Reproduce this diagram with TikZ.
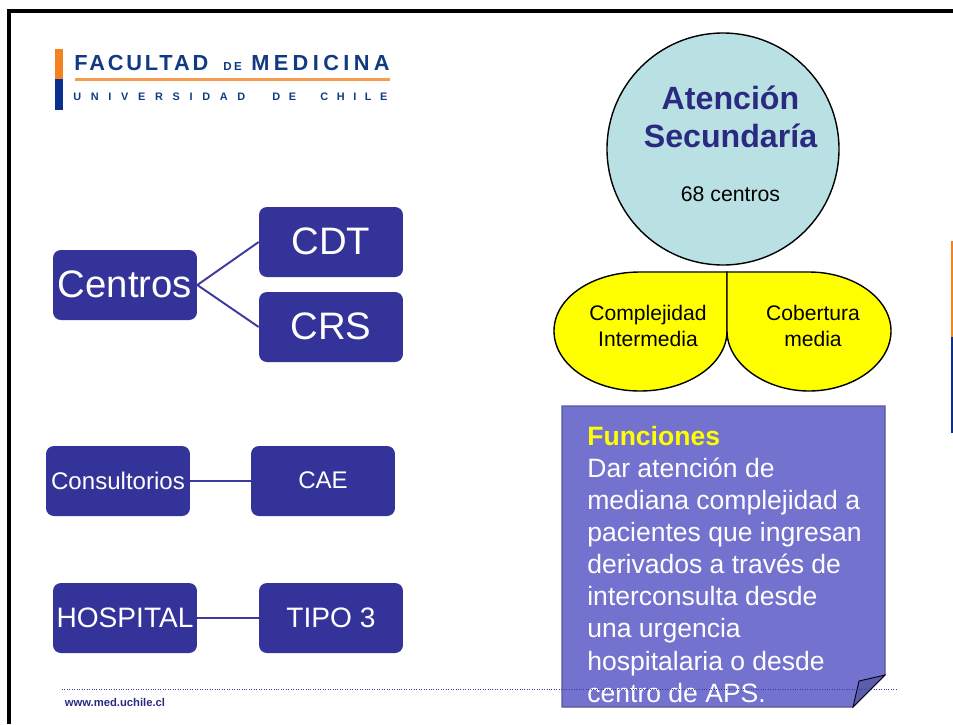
\documentclass[tikz,border=0pt]{standalone}
\usepackage{fontspec}
\setmainfont{Liberation Sans}
\newfontfamily\logofont[LetterSpace=13]{Liberation Sans}
\newfontfamily\logomed[LetterSpace=20]{Liberation Sans}
\newfontfamily\logosmall[LetterSpace=20]{Liberation Sans}
\newfontfamily\logowide[LetterSpace=89]{Liberation Sans}
\newfontfamily\logochile[LetterSpace=79]{Liberation Sans}
\definecolor{boxblue}{HTML}{333399}
\definecolor{lineblue}{HTML}{3B3B9E}
\definecolor{logoblue}{HTML}{123A82}
\definecolor{barblue}{HTML}{0B2F8F}
\definecolor{barorange}{HTML}{F58220}
\definecolor{notepurple}{HTML}{7373CF}
\definecolor{notedark}{HTML}{565699}
\definecolor{foldblue}{HTML}{5C5CAE}
\definecolor{circleteal}{HTML}{B9E0E3}
\definecolor{titleblue}{HTML}{2A2A80}
\definecolor{petalyellow}{HTML}{FFFF00}
\tikzset{
	centrobox/.style={draw=none,fill=boxblue,rounded corners=4.5pt,text=white,minimum width=2.88cm,minimum height=1.4cm,inner sep=0pt},
	centrolink/.style={draw=lineblue,line width=1.1pt},
	petal/.style={draw=black,line width=0.8pt,fill=petalyellow},
	petaltext/.style={align=center,font=\fontsize{12}{14.6}\selectfont},
}
\begin{document}
\begin{tikzpicture}[x=0.02cm,y=-0.02cm]
	\useasboundingbox(0,0)rectangle(953,724);
	% frame
	\draw[line width=2pt](953,11)--(9,11)--(9,724);
	% logo
	\fill[barorange](55,49)rectangle(62.5,79);
	\fill[barblue](55,79)rectangle(62.5,110);
	\fill[barorange!80!white](75,78)rectangle(390,80.5);
	\node[anchor=base west,inner sep=0pt,text=logoblue,font=\fontsize{12.4}{14}\bfseries\logofont](logoa)at(74,70){FACULTAD};
	\node[anchor=base west,inner sep=0pt,text=logoblue,font=\fontsize{6.6}{8}\bfseries\logosmall](logob)at(223,70){DE};
	\node[anchor=base west,inner sep=0pt,text=logoblue,font=\fontsize{12.4}{14}\bfseries\logomed](logoc)at(251,70){MEDICINA};
	\node[anchor=base west,inner sep=0pt,text=logoblue,font=\fontsize{6.2}{8}\bfseries\logowide](logod)at(73,100){UNIVERSIDAD};
	\node[anchor=base west,inner sep=0pt,text=logoblue,font=\fontsize{6.2}{8}\bfseries\logochile](logoe)at(272,100){DE};
	\node[anchor=base west,inner sep=0pt,text=logoblue,font=\fontsize{6.2}{8}\bfseries\logochile](logof)at(320,100){CHILE};
	% side bar
	\fill[barorange](951,241)rectangle(953,337);
	\fill[barblue](951,337)rectangle(953,433);
	% left boxes
	\node[centrobox,font=\fontsize{21.8}{24}\selectfont](centros)at(125,285){\raisebox{1pt}{Centros}};
	\node[centrobox,font=\fontsize{21.8}{24}\selectfont](cdt)at(331,242){\raisebox{1pt}{CDT}};
	\node[centrobox,font=\fontsize{21.8}{24}\selectfont](crs)at(331,327){\raisebox{1pt}{CRS}};
	\draw[centrolink](centros.east)--(cdt.west);
	\draw[centrolink](centros.east)--(crs.west);
	\node[centrobox,font=\fontsize{13.7}{16}\selectfont](consultorios)at(118,481){\raisebox{0.5pt}{Consultorios}};
	\node[centrobox,font=\fontsize{13.7}{16}\selectfont](cae)at(323,481){\raisebox{0.5pt}{CAE}};
	\draw[centrolink](consultorios)--(cae);
	\node[centrobox,font=\fontsize{16}{18}\selectfont](hospital)at(125,618){HOSPITAL};
	\node[centrobox,font=\fontsize{16}{18}\selectfont](tipo)at(331,618){TIPO 3};
	\draw[centrolink](hospital)--(tipo);
	% circle
	\draw[fill=circleteal,line width=0.8pt](723,149)coordinate(circ)circle(116);
	\node[align=center,text=titleblue,font=\fontsize{18.3}{21.8}\bfseries\selectfont](titulo)at(730.5,117){Atención\\Secundaría};
	\node[font=\fontsize{12.1}{14}\selectfont](centros68)at(730.5,194){68 centros};
	% petals
	\draw[petal](727,272)--(727,331)..controls(727,364)and(688,391)..(640,391)..controls(592,391)and(554,364)..(554,331)..controls(554,298)and(592,272)..(640,272)--cycle;
	\draw[petal](727,272)--(727,331)..controls(727,364)and(766,391)..(809,391)..controls(853,391)and(891,364)..(891,331)..controls(891,298)and(853,272)..(809,272)--cycle;
	\node[petaltext](compl)at(648,326){Complejidad\\Intermedia};
	\node[petaltext](cober)at(813,326){Cobertura\\media};
	% note
	\draw[fill=notepurple,draw=notedark,line width=0.7pt](562,406)--(885,406)--(885,675)--(853,707)--(562,707)--cycle;
	\draw[fill=foldblue,draw=black,line width=0.5pt](853,707)--(859,681)--(885,675)--cycle;
	\node[anchor=north west,inner sep=0pt,align=left,text=white,font=\fontsize{15.1}{18.25}\selectfont](nota)at(587,426){\textcolor{petalyellow}{\textbf{Funciones}}\\Dar atención de\\mediana complejidad a\\pacientes que ingresan\\derivados a través de\\interconsulta desde\\una urgencia\\hospitalaria o desde\\centro de APS.};
	% footer
	\coordinate(footl)at(62,689);
	\coordinate(footr)at(896,689);
	\draw[lineblue,line width=0.4pt,densely dotted](footl)--(footr);
	\node[anchor=base west,inner sep=0pt,text=titleblue,font=\fontsize{6.4}{8}\bfseries\selectfont](web)at(64.5,706){www.med.uchile.cl};
\end{tikzpicture}
\end{document}
